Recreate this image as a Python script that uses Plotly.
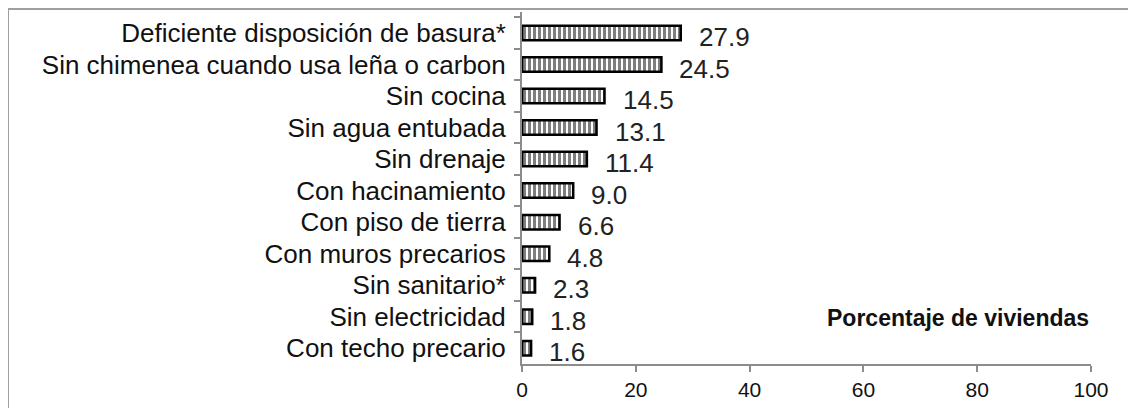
import plotly.graph_objects as go

categories = [
    "Deficiente disposición de basura*",
    "Sin chimenea cuando usa leña o carbon",
    "Sin cocina",
    "Sin agua entubada",
    "Sin drenaje",
    "Con hacinamiento",
    "Con piso de tierra",
    "Con muros precarios",
    "Sin sanitario*",
    "Sin electricidad",
    "Con techo precario",
]
values = [27.9, 24.5, 14.5, 13.1, 11.4, 9.0, 6.6, 4.8, 2.3, 1.8, 1.6]
x_ticks = [0, 20, 40, 60, 80, 100]
axis_title = "Porcentaje de viviendas"

FONT = "Liberation Sans, Arial, sans-serif"
GRAY = "#8c8c8c"

# page has an 8px body margin, so the figure is 8px smaller and offset
W, H = 1128, 400
L, R, T, B = 514, 45, 4, 44
PW, PH = W - L - R, H - T - B

fig = go.Figure()
fig.add_trace(go.Bar(
    x=values, y=categories, orientation="h", width=0.46,
    marker=dict(
        color="white",
        line=dict(color="black", width=2.5),
        pattern=dict(shape="|", fgcolor="black", bgcolor="white", size=5, solidity=0.6),
    ),
    hoverinfo="skip",
))

for v, c in zip(values, categories):
    fig.add_annotation(x=v, y=c, text=f"{v:.1f}", showarrow=False,
                       xanchor="left", xshift=16, yshift=-4,
                       font=dict(family=FONT, size=26, color="#222"))

fig.add_annotation(x=1.0, y=0.13, xref="paper", yref="paper", text=f"<b>{axis_title}</b>",
                   showarrow=False, xanchor="right", yanchor="middle",
                   font=dict(family=FONT, size=23, color="#111"))

# outer frame
fig.add_shape(type="rect", xref="paper", yref="paper",
              x0=(0 - L) / PW, x1=(W + 10 - L) / PW,
              y0=-(B + 10) / PH, y1=(PH + T - 1) / PH,
              line=dict(color="#a0a0a0", width=2), fillcolor="rgba(0,0,0,0)", layer="below")

fig.update_layout(
    width=W, height=H,
    margin=dict(l=L, r=R, t=T, b=B),
    paper_bgcolor="white", plot_bgcolor="white",
    showlegend=False,
    font=dict(family=FONT, size=26, color="#111"),
    xaxis=dict(range=[0, 100], tickvals=x_ticks, showgrid=False, zeroline=False,
               showline=True, linecolor=GRAY, linewidth=2,
               ticks="outside", ticklen=6, tickcolor=GRAY, tickwidth=2,
               tickfont=dict(family=FONT, size=21, color="#111")),
    yaxis=dict(categoryorder="array", categoryarray=categories, autorange="reversed",
               showgrid=False, zeroline=False, showline=True, linecolor=GRAY, linewidth=2,
               ticks="outside", tickson="boundaries", ticklen=6, tickcolor=GRAY, tickwidth=2,
               ticklabelstandoff=9,
               tickfont=dict(family=FONT, size=26, color="#111")),
)

fig.write_html("out.html")
